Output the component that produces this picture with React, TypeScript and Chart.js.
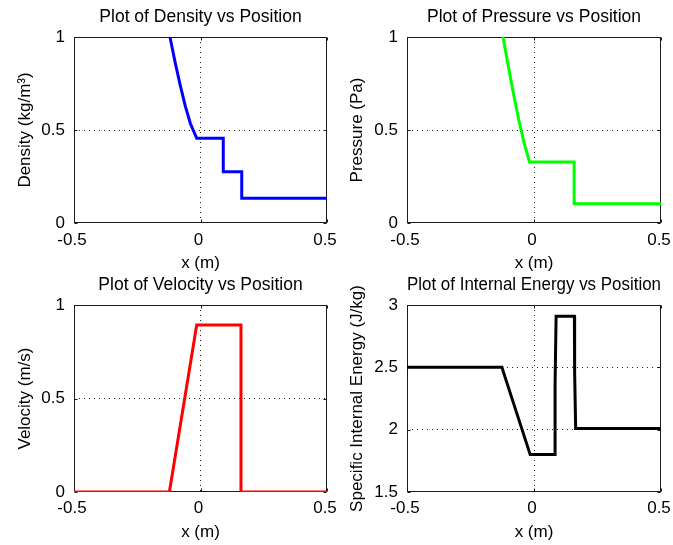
import React, { useEffect, useRef } from 'react';
import { Chart, registerables } from 'chart.js';

Chart.register(...registerables);

// ---------- data ----------
const xTicks = [-0.5, 0, 0.5];
const unitTicks = [0, 0.5, 1];
const energyTicks = [1.5, 2, 2.5, 3];

const densityX = [-0.1206, -0.1, -0.08, -0.06, -0.04, -0.015, 0.09, 0.09, 0.163, 0.163, 0.5];
const densityY = [1.0, 0.862, 0.74, 0.628, 0.535, 0.455, 0.455, 0.276, 0.276, 0.133, 0.133];

const pressureX = [-0.122, -0.1, -0.08, -0.06, -0.04, -0.0177, 0.158, 0.158, 0.5];
const pressureY = [1.0, 0.835, 0.69, 0.555, 0.436, 0.328, 0.328, 0.104, 0.104];

const velocityX = [-0.5, -0.123, -0.015, 0.16, 0.16, 0.5];
const velocityY = [0, 0, 0.893, 0.893, 0, 0];

const energyX = [-0.5, -0.126, -0.12, -0.015, 0.083, 0.083, 0.087, 0.09, 0.159, 0.16, 0.164, 0.5];
const energyY = [2.5, 2.5, 2.46, 1.8, 1.8, 2.36, 2.91, 2.91, 2.91, 2.46, 2.01, 2.01];

// ---------- styling ----------
const FONT_FAMILY = "'Liberation Sans', Arial, sans-serif";
const FONT_SIZE = 17;
const LH = 1.2;
const HALF_LH = (FONT_SIZE * LH) / 2;
const font = { family: FONT_FAMILY, size: FONT_SIZE, weight: 'normal' as const, lineHeight: LH };
const TITLE_SIZE = 17.5;
const titleFont = { family: FONT_FAMILY, size: TITLE_SIZE, weight: 'normal' as const, lineHeight: LH };
const HALF_TLH = (TITLE_SIZE * LH) / 2;

type Panel = {
  title: string;
  yLabel: string;
  xs: number[];
  ys: number[];
  color: string;
  yMin: number;
  yMax: number;
  yTicks: number[];
  // layout in page coordinates
  cl: number; ct: number; cw: number; ch: number;
  L: number; R: number; T: number; B: number;
  titleCY: number; xTickCY: number; xTitleCY: number; yTitleCX: number;
};

const panels: Panel[] = [
  {
    title: 'Plot of Density vs Position', yLabel: 'Density (kg/m³)',
    xs: densityX, ys: densityY, color: '#0000ff', yMin: 0, yMax: 1, yTicks: unitTicks,
    cl: 0, ct: 0, cw: 350, ch: 278, L: 74, R: 327, T: 37, B: 223,
    titleCY: 17, xTickCY: 240, xTitleCY: 263, yTitleCX: 25,
  },
  {
    title: 'Plot of Pressure vs Position', yLabel: 'Pressure (Pa)',
    xs: pressureX, ys: pressureY, color: '#00ff00', yMin: 0, yMax: 1, yTicks: unitTicks,
    cl: 340, ct: 0, cw: 345, ch: 278, L: 407, R: 661, T: 37, B: 223,
    titleCY: 17, xTickCY: 240, xTitleCY: 263, yTitleCX: 357,
  },
  {
    title: 'Plot of Velocity vs Position', yLabel: 'Velocity (m/s)',
    xs: velocityX, ys: velocityY, color: '#ff0000', yMin: 0, yMax: 1, yTicks: unitTicks,
    cl: 0, ct: 270, cw: 350, ch: 275, L: 74, R: 327, T: 305, B: 492,
    titleCY: 285, xTickCY: 508, xTitleCY: 532, yTitleCX: 25,
  },
  {
    title: 'Plot of Internal Energy vs Position', yLabel: 'Specific Internal Energy (J/kg)',
    xs: energyX, ys: energyY, color: '#000000', yMin: 1.5, yMax: 3, yTicks: energyTicks,
    cl: 340, ct: 270, cw: 345, ch: 275, L: 407, R: 661, T: 305, B: 492,
    titleCY: 285, xTickCY: 508, xTitleCY: 532, yTitleCX: 357,
  },
];

const boxPlugin = {
  id: 'matlabBox',
  beforeDatasetsDraw(chart: any) {
    const { ctx, chartArea } = chart;
    const { left, right, top, bottom } = chartArea;
    const x0 = Math.round(left) + 0.5;
    const x1 = Math.round(right) - 0.5;
    const y0 = Math.round(top) + 0.5;
    const y1 = Math.round(bottom) - 0.5;
    ctx.save();
    ctx.strokeStyle = '#1a1a1a';
    ctx.lineWidth = 1;
    ctx.setLineDash([]);
    ctx.strokeRect(x0, y0, x1 - x0, y1 - y0);
    const tickLen = 3;
    ctx.beginPath();
    const xs = chart.scales.x;
    for (const t of xs.ticks) {
      const px = Math.round(xs.getPixelForValue(t.value)) + 0.5;
      ctx.moveTo(px, y1); ctx.lineTo(px, y1 - tickLen);
      ctx.moveTo(px, y0); ctx.lineTo(px, y0 + tickLen);
    }
    const ys = chart.scales.y;
    for (const t of ys.ticks) {
      const py = Math.round(ys.getPixelForValue(t.value)) + 0.5;
      ctx.moveTo(x0, py); ctx.lineTo(x0 + tickLen, py);
      ctx.moveTo(x1, py); ctx.lineTo(x1 - tickLen, py);
    }
    ctx.stroke();
    ctx.restore();
  },
};

function gridColor(min: number, max: number) {
  return (c: any) => {
    const v = c.tick ? c.tick.value : NaN;
    return v > min + 1e-9 && v < max - 1e-9 ? '#222222' : 'rgba(0,0,0,0)';
  };
}

function SubPlot({ p }: { p: Panel }) {
  const ref = useRef<HTMLCanvasElement | null>(null);
  useEffect(() => {
    const canvas = ref.current;
    if (!canvas) return;
    const titlePadTop = p.titleCY - p.ct - HALF_TLH;
    const titlePadBottom = p.T - p.ct - 2 * HALF_TLH - titlePadTop;
    const xHeight = p.ct + p.ch - p.B;
    const yWidth = p.L - p.cl;
    const padRight = p.cl + p.cw - p.R;
    const xTickPad = p.xTickCY - p.B - HALF_LH;
    const xTitlePad = p.ct + p.ch - p.xTitleCY - HALF_LH;
    const yTitlePad = p.yTitleCX - p.cl - HALF_LH;

    const chart = new Chart(canvas, {
      type: 'line',
      data: {
        datasets: [
          {
            data: p.xs.map((x, i) => ({ x, y: p.ys[i] })),
            borderColor: p.color,
            backgroundColor: p.color,
            borderWidth: 3,
            pointRadius: 0,
            tension: 0,
            fill: false,
          },
        ],
      },
      options: {
        animation: false,
        responsive: false,
        events: [],
        layout: { padding: { left: 0, right: padRight, top: 0, bottom: 0 } },
        plugins: {
          legend: { display: false },
          tooltip: { enabled: false },
          title: {
            display: true,
            text: p.title,
            fullSize: false,
            color: '#000',
            font: titleFont,
            padding: { top: titlePadTop, bottom: titlePadBottom },
          },
        },
        scales: {
          x: {
            type: 'linear',
            min: -0.5,
            max: 0.5,
            afterBuildTicks: (s: any) => { s.ticks = xTicks.map((v) => ({ value: v })); },
            afterFit: (s: any) => { s.height = xHeight; },
            ticks: { color: '#000', font, padding: xTickPad, maxRotation: 0, labelOffset: -2, callback: (v: any) => String(Number(v)) },
            grid: { display: true, drawTicks: false, lineWidth: 1, color: gridColor(-0.5, 0.5) },
            border: { display: false, dash: [1, 4] },
            title: { display: true, text: 'x (m)', color: '#000', font, padding: { top: 0, bottom: xTitlePad } },
          },
          y: {
            type: 'linear',
            min: p.yMin,
            max: p.yMax,
            afterBuildTicks: (s: any) => { s.ticks = p.yTicks.map((v) => ({ value: v })); },
            afterFit: (s: any) => { s.width = yWidth; },
            ticks: { color: '#000', font, padding: 9, callback: (v: any) => String(Number(v)) },
            grid: { display: true, drawTicks: false, lineWidth: 1, color: gridColor(p.yMin, p.yMax) },
            border: { display: false, dash: [1, 4] },
            title: { display: true, text: p.yLabel, color: '#000', font, padding: { top: yTitlePad, bottom: 0 } },
          },
        },
      } as any,
      plugins: [boxPlugin],
    });
    return () => chart.destroy();
  }, [p]);

  return (
    <canvas
      ref={ref}
      width={p.cw}
      height={p.ch}
      style={{ position: 'absolute', left: p.cl, top: p.ct, width: p.cw, height: p.ch, display: 'block' }}
    />
  );
}

export default function App() {
  return (
    <div style={{ position: 'absolute', left: 0, top: 0, width: 673, height: 545, background: '#ffffff', overflow: 'hidden' }}>
      {panels.map((p) => (
        <SubPlot key={p.title} p={p} />
      ))}
    </div>
  );
}
